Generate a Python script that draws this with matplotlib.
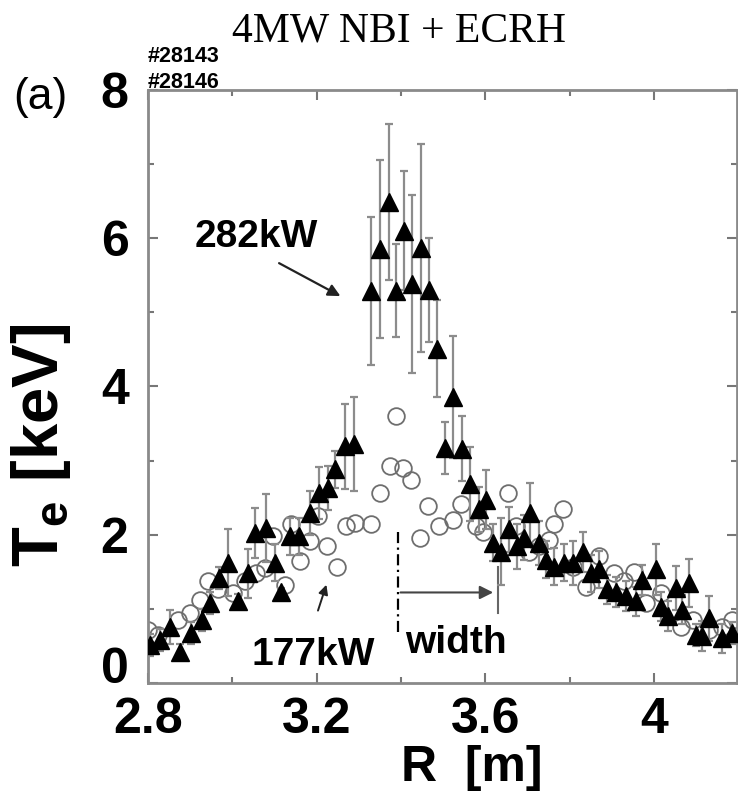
import numpy as np
import matplotlib
matplotlib.use('Agg')
import matplotlib.pyplot as plt
import matplotlib.transforms as mtransforms
from matplotlib.ticker import MultipleLocator, FuncFormatter

plt.rcParams['font.family'] = ['Liberation Sans', 'DejaVu Sans']
plt.rcParams['mathtext.fontset'] = 'custom'
plt.rcParams['mathtext.rm'] = 'Liberation Sans:bold'
plt.rcParams['mathtext.it'] = 'Liberation Sans:bold'
plt.rcParams['mathtext.bf'] = 'Liberation Sans:bold'

# 282kW shot: major radius [m], Te [keV], error bar [keV]
r_282 = [2.805, 2.828, 2.852, 2.876, 2.903, 2.927, 2.947, 2.968, 2.990, 3.014,
         3.036, 3.053, 3.079, 3.101, 3.115, 3.136, 3.157, 3.183, 3.205, 3.227,
         3.244, 3.266, 3.288, 3.329, 3.351, 3.371, 3.389, 3.407, 3.426, 3.448,
         3.466, 3.485, 3.505, 3.524, 3.545, 3.564, 3.584, 3.602, 3.617, 3.637,
         3.657, 3.674, 3.692, 3.706, 3.726, 3.744, 3.763, 3.787, 3.807, 3.832,
         3.850, 3.870, 3.889, 3.909, 3.933, 3.957, 3.972, 4.004, 4.016, 4.032,
         4.051, 4.067, 4.083, 4.099, 4.114, 4.130, 4.162, 4.185]
te_282 = [0.51, 0.58, 0.76, 0.42, 0.67, 0.85, 1.08, 1.41, 1.62, 1.10,
          1.48, 2.02, 2.09, 1.62, 1.23, 1.98, 1.98, 2.29, 2.56, 2.63,
          2.88, 3.19, 3.22, 5.29, 5.85, 6.49, 5.29, 6.10, 5.38, 5.87,
          5.30, 4.51, 3.17, 3.86, 3.16, 2.68, 2.34, 2.47, 1.89, 1.77,
          2.07, 1.84, 1.96, 2.29, 1.89, 1.66, 1.57, 1.62, 1.62, 1.77,
          1.48, 1.53, 1.26, 1.23, 1.17, 1.10, 1.39, 1.53, 1.03, 0.90,
          1.28, 0.99, 1.35, 0.65, 0.63, 0.87, 0.60, 0.67]
err_282 = [0.15, 0.15, 0.23, 0.10, 0.15, 0.15, 0.15, 0.15, 0.45, 0.10,
           0.33, 0.34, 0.46, 0.25, 0.05, 0.25, 0.25, 0.30, 0.35, 0.30,
           0.25, 0.57, 0.63, 1.00, 1.20, 1.05, 0.63, 0.80, 1.20, 1.40,
           0.70, 0.65, 0.35, 0.82, 0.44, 0.50, 0.30, 0.40, 0.25, 0.45,
           0.30, 0.30, 0.30, 0.41, 0.30, 0.25, 0.25, 0.25, 0.30, 0.27,
           0.25, 0.25, 0.20, 0.20, 0.20, 0.20, 0.20, 0.35, 0.20, 0.20,
           0.30, 0.20, 0.32, 0.15, 0.20, 0.30, 0.20, 0.15]

# 177kW shot
r_177 = [2.801, 2.824, 2.872, 2.899, 2.923, 2.943, 2.966, 3.002, 3.030, 3.057,
         3.077, 3.097, 3.124, 3.140, 3.160, 3.183, 3.203, 3.225, 3.247, 3.270,
         3.290, 3.329, 3.349, 3.373, 3.389, 3.404, 3.424, 3.444, 3.463, 3.489,
         3.523, 3.542, 3.578, 3.594, 3.653, 3.673, 3.704, 3.728, 3.751, 3.763,
         3.783, 3.807, 3.838, 3.870, 3.905, 3.929, 3.953, 3.980, 4.016, 4.063,
         4.091, 4.130, 4.162, 4.185]
te_177 = [0.72, 0.65, 0.85, 0.94, 1.12, 1.37, 1.26, 1.21, 1.37, 1.48,
          1.55, 1.98, 1.32, 2.14, 1.64, 1.91, 2.25, 1.84, 1.57, 2.11,
          2.16, 2.14, 2.56, 2.92, 3.60, 2.90, 2.74, 1.96, 2.38, 2.12,
          2.20, 2.41, 2.11, 2.04, 2.56, 2.11, 1.77, 1.84, 1.93, 2.14,
          2.34, 1.57, 1.30, 1.71, 1.48, 1.37, 1.50, 1.08, 1.21, 0.76,
          0.85, 0.72, 0.76, 0.85]

x_ticks = [2.8, 3.2, 3.6, 4.0]
y_ticks = [0, 2, 4, 6, 8]

fig = plt.figure(figsize=(7.38, 7.95), dpi=100)
ax = fig.add_axes([0.2005, 0.141, 0.7985, 0.746])

ax.plot(r_177, te_177, 'o', mfc='none', mec='#6e6e6e', mew=1.3, ms=12, zorder=2)
ax.errorbar(r_282, te_282, yerr=err_282, fmt='^', color='black', ms=13,
            ecolor='#8c8c8c', elinewidth=1.6, capsize=3, capthick=1.6, zorder=3)

ax.set_xlim(2.8, 4.197)
ax.set_ylim(0, 8)
ax.xaxis.set_minor_locator(MultipleLocator(0.2))
ax.yaxis.set_minor_locator(MultipleLocator(1))
ax.set_xticks(x_ticks)
ax.set_yticks(y_ticks)
ax.xaxis.set_major_formatter(FuncFormatter(lambda v, p: '%g' % v))
ax.tick_params(which='both', direction='in', top=True, right=True,
               color='#777777', width=1.5)
ax.tick_params(which='major', length=7)
ax.tick_params(which='minor', length=4)
ax.tick_params(axis='x', which='major', labelsize=36, pad=10)
ax.tick_params(axis='y', which='major', labelsize=36, pad=14)
for lab in ax.get_xticklabels() + ax.get_yticklabels():
    lab.set_fontweight('bold')
# the "0" sits a little higher in the original
ax.get_yticklabels()[0].set_transform(
    ax.get_yticklabels()[0].get_transform()
    + mtransforms.ScaledTranslation(0, 18 / 100, fig.dpi_scale_trans))
for sp in ax.spines.values():
    sp.set_color('#8a8a8a')
    sp.set_linewidth(2)

ax.set_xlabel('R  [m]', fontsize=36, fontweight='bold')
ax.xaxis.set_label_coords(0.549, -0.105)
ax.set_ylabel(r'T$_\mathrm{e}$ [keV]', fontsize=47, fontweight='bold')
ax.yaxis.set_label_coords(-0.128, 0.40)

# annotations
ax.text(3.057, 5.88, '282kW', fontsize=28, fontweight='bold', ha='center', va='baseline')
ax.annotate('', xy=(3.262, 5.2), xytext=(3.105, 5.68),
            arrowprops=dict(arrowstyle='-|>', color='#222222', lw=1.6, mutation_scale=18))
ax.text(3.192, 0.24, '177kW', fontsize=28, fontweight='bold', ha='center', va='baseline')
ax.annotate('', xy=(3.225, 1.36), xytext=(3.201, 0.94),
            arrowprops=dict(arrowstyle='-|>', color='#222222', lw=1.4, mutation_scale=14))
ax.text(3.529, 0.41, 'width', fontsize=28, fontweight='bold', ha='center', va='baseline')
ax.plot([3.392, 3.392], [0.68, 2.03], color='black', lw=1.6, ls=(0, (5, 2, 1, 2)))
ax.annotate('', xy=(3.625, 1.22), xytext=(3.392, 1.22),
            arrowprops=dict(arrowstyle='-|>', color='#444444', lw=1.5, mutation_scale=20))
ax.plot([3.629, 3.629], [0.94, 1.57], color='#666666', lw=1.5)

# header texts
fig.text(0.2005, 0.922, '#28143', fontsize=15.5, fontweight='bold', ha='left', va='baseline')
fig.text(0.2005, 0.8895, '#28146', fontsize=15.5, fontweight='bold', ha='left', va='baseline')
fig.text(0.055, 0.877, '(a)', fontsize=32, ha='center', va='center')
fig.text(0.54, 0.948, '4MW NBI + ECRH', fontsize=30, family='Liberation Serif',
         ha='center', va='baseline')

fig.savefig('out.png', dpi=100)
